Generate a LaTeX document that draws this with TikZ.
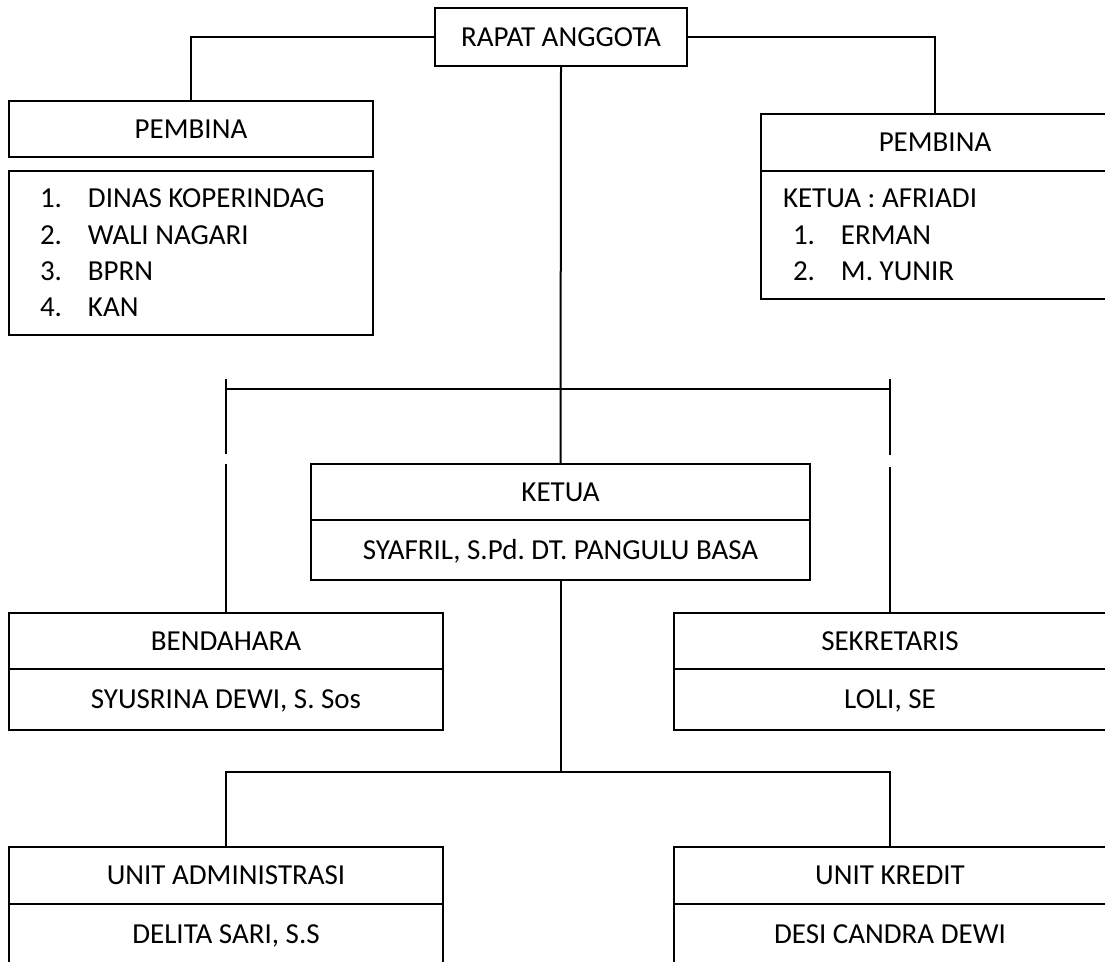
\documentclass[tikz,border=0pt]{standalone}
\usepackage{fontspec}
\setmainfont{Carlito}
\usetikzlibrary{positioning}

\newcommand{\nomor}[1]{\makebox[48pt][l]{#1}}
\newcommand{\spasibiasa}{\spaceskip=0pt\xspaceskip=0pt\relax}
\frenchspacing

\begin{document}
\begin{tikzpicture}[
    x=1pt, y=-1pt,
    line width=2pt,
    font=\fontsize{29}{36.4}\selectfont,
    unitbox/.style={rectangle, draw, outer sep=0pt, inner sep=0pt, align=center},
    titlecell/.style={unitbox, minimum height=56pt, text height=18.7pt, text depth=0pt},
    namecell/.style={unitbox, minimum height=60pt, text height=18.7pt, text depth=0pt},
    listbox/.style={unitbox, align=left, inner xsep=#1}
]
\useasboundingbox (0,0) rectangle (1105,961);

% Rapat anggota
\node[unitbox, minimum width=252pt, minimum height=58pt] (rapat) at (561,37) {RAPAT ANGGOTA};

% Pembina kiri dan kanan
\node[titlecell, minimum width=364pt] (pembinaL) at (191,129) {PEMBINA};
\node[listbox=31pt, text width=302pt, minimum height=164pt, below=14pt of pembinaL] (daftarL)
    {\spasibiasa\nomor{1.}DINAS KOPERINDAG\\ \nomor{2.}WALI NAGARI\\ \nomor{3.}BPRN\\ \nomor{4.}KAN};
\node[titlecell, minimum width=348pt, minimum height=57pt] (pembinaR) at (935,142.5) {PEMBINA};
\node[listbox=22pt, text width=304pt, minimum height=128pt, below=0pt of pembinaR] (daftarR)
    {\spasibiasa KETUA : AFRIADI\\ \hspace*{10pt}\nomor{1.}ERMAN\\ \hspace*{10pt}\nomor{2.}M. YUNIR};

% Pengurus
\node[titlecell, minimum width=499pt] (ketua) at (560.5,492) {KETUA};
\node[namecell, minimum width=499pt, below=0pt of ketua] (ketuaNama) {SYAFRIL, S.Pd. DT. PANGULU BASA};
\node[titlecell, minimum width=434pt] (bendahara) at (226,641) {BENDAHARA};
\node[namecell, minimum width=434pt, minimum height=61pt, below=0pt of bendahara] (bendaharaNama) {SYUSRINA DEWI, S. Sos};
\node[titlecell, minimum width=432pt] (sekretaris) at (890,641) {SEKRETARIS};
\node[namecell, minimum width=432pt, minimum height=61pt, below=0pt of sekretaris] (sekretarisNama) {LOLI, SE};

% Unit
\node[titlecell, minimum width=434pt, minimum height=57pt] (unitAdm) at (226,875.5) {UNIT ADMINISTRASI};
\node[namecell, minimum width=434pt, below=0pt of unitAdm] (unitAdmNama) {DELITA SARI, S.S};
\node[titlecell, minimum width=432pt, minimum height=57pt] (unitKredit) at (890,875.5) {UNIT KREDIT};
\node[namecell, minimum width=432pt, below=0pt of unitKredit] (unitKreditNama) {DESI CANDRA DEWI};

% Garis
\coordinate (barL) at (226,389);
\coordinate (barR) at (890,389);
\coordinate (tickL) at (226,379);
\coordinate (tickR) at (890,379);
\coordinate (cutL) at (226,454);
\coordinate (cutR) at (890,455);
\coordinate (resumeL) at (226,464);
\coordinate (resumeR) at (890,467);
\coordinate (cabang) at (560.5,772);

\draw (rapat.west) -| (pembinaL.north);
\draw (rapat.east) -| (pembinaR.north);
\draw (rapat.south) -- (ketua.north);
\draw (barL) -- (barR);
\draw (tickL) -- (cutL);
\draw (tickR) -- (cutR);
\draw (resumeL) -- (bendahara.north);
\draw (resumeR) -- (sekretaris.north);
\draw (ketuaNama.south) -- (cabang);
\draw (unitAdm.north) |- (cabang) -| (unitKredit.north);

\end{tikzpicture}
\end{document}
